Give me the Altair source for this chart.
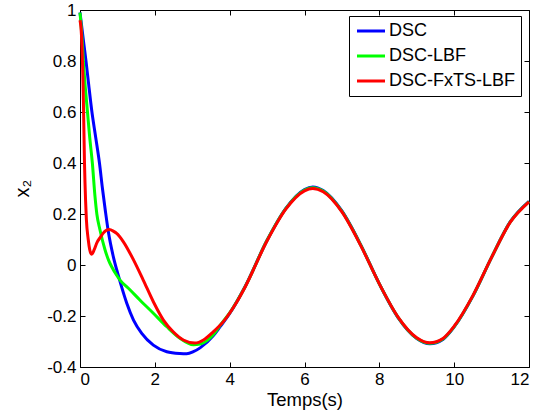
import altair as alt
import pandas as pd

series_names = ["DSC", "DSC-LBF", "DSC-FxTS-LBF"]
series_colors = ["#0000ff", "#00ff00", "#ff0000"]

x_ticks = [0, 2, 4, 6, 8, 10, 12]
y_ticks = [-0.4, -0.2, 0, 0.2, 0.4, 0.6, 0.8, 1]

t_dsc = [0, 0.05, 0.1, 0.16, 0.23, 0.31, 0.42, 0.52, 0.60, 0.68, 0.76, 0.89, 1.02,
         1.11, 1.25, 1.43, 1.65, 1.96, 2.32, 2.67, 2.85, 3.03, 3.21, 3.56, 3.74, 4.0,
         4.41, 5.0, 5.5, 6.0, 6.22, 6.5, 7.0, 7.5, 8.0, 8.5, 9.0, 9.35, 9.7, 10.0,
         10.5, 11.0, 11.5, 12.0]
v_dsc = [0.99, 0.93, 0.87, 0.80, 0.71, 0.61, 0.50, 0.40, 0.30, 0.21, 0.128, 0.033, -0.039,
         -0.085, -0.15, -0.216, -0.268, -0.314, -0.34, -0.347, -0.348, -0.34, -0.325, -0.278, -0.243, -0.19,
         -0.085, 0.097, 0.222, 0.296, 0.306, 0.292, 0.212, 0.08, -0.074, -0.206, -0.288, -0.309, -0.292, -0.243,
         -0.122, 0.03, 0.17, 0.25]

t_lbf = [0, 0.05, 0.09, 0.14, 0.2, 0.26, 0.33, 0.40, 0.45, 0.53, 0.67, 0.76, 0.85,
         0.98, 1.07, 1.34, 1.6, 1.96, 2.32, 2.67, 3.03, 3.21, 3.56, 3.74, 4.0,
         4.41, 5.0, 5.5, 6.0, 6.22, 6.5, 7.0, 7.5, 8.0, 8.5, 9.0, 9.35, 9.7, 10.0,
         10.5, 11.0, 11.5, 12.0]
v_lbf = [0.99, 0.90, 0.80, 0.70, 0.60, 0.50, 0.40, 0.27, 0.20, 0.14, 0.059, 0.02, -0.008,
         -0.04, -0.059, -0.098, -0.137, -0.189, -0.242, -0.287, -0.313, -0.31, -0.274, -0.238, -0.188,
         -0.086, 0.097, 0.221, 0.294, 0.303, 0.29, 0.21, 0.079, -0.074, -0.205, -0.287, -0.307, -0.29, -0.242,
         -0.121, 0.03, 0.169, 0.249]

t_fxts = [0, 0.04, 0.09, 0.12, 0.15, 0.17, 0.22, 0.26, 0.31, 0.38, 0.45, 0.55, 0.62,
          0.78, 0.9, 0.98, 1.16, 1.43, 1.69, 1.96, 2.23, 2.49, 2.76, 3.07, 3.3, 3.56,
          3.83, 4.19, 4.41, 5.0, 5.5, 6.0, 6.22, 6.5, 7.0, 7.5, 8.0, 8.5, 9.0, 9.35,
          9.7, 10.0, 10.5, 11.0, 11.5, 12.0]
v_fxts = [0.96, 0.90, 0.65, 0.40, 0.25, 0.18, 0.10, 0.06, 0.042, 0.06, 0.087, 0.11, 0.125,
          0.139, 0.132, 0.124, 0.091, 0.02, -0.059, -0.144, -0.216, -0.262, -0.294, -0.306, -0.294, -0.262,
          -0.222, -0.145, -0.087, 0.095, 0.219, 0.291, 0.30, 0.287, 0.208, 0.077, -0.074, -0.204, -0.285, -0.305,
          -0.288, -0.24, -0.12, 0.03, 0.168, 0.248]


def frame(name, ts, vs):
    return pd.DataFrame({"t": ts, "v": vs, "series": name})


df_dsc = frame(series_names[0], t_dsc, v_dsc)
df_lbf = frame(series_names[1], t_lbf, v_lbf)
df_fxts = frame(series_names[2], t_fxts, v_fxts)

FONT = "Liberation Sans"
inward = alt.ExprRef(expr="-5")

xscale = alt.Scale(domain=[0, 12], nice=False, zero=False)
yscale = alt.Scale(domain=[-0.4, 1], nice=False, zero=False)

legend = alt.Legend(
    title=None,
    orient="none",
    legendX=269,
    legendY=6,
    symbolType="M-1,0H3",
    symbolSize=196,
    symbolStrokeWidth=3,
    labelOffset=16,
    labelFont=FONT,
    labelFontSize=18,
    labelColor="black",
    rowPadding=7,
    padding=6,
    strokeColor="black",
    fillColor="white",
    cornerRadius=0,
)
color = alt.Color(
    "series:N",
    scale=alt.Scale(domain=series_names, range=series_colors),
    legend=legend,
)

axis_common = dict(
    grid=False,
    domain=False,
    tickColor="black",
    tickWidth=1,
    tickSize=inward,
    labelFont=FONT,
    labelFontSize=17,
    labelColor="black",
    titleFont=FONT,
    titleFontWeight="normal",
    titleColor="black",
)

x_main = alt.Axis(orient="bottom", values=x_ticks, title="Temps(s)", labelPadding=9,
                  titlePadding=3, titleFontSize=18.5, **axis_common)
y_main = alt.Axis(orient="left", values=y_ticks, title="x₂", labelPadding=9,
                  labelExpr="'' + datum.value", titleAngle=-90, titleX=-52, titleY=178,
                  titleAlign="center", titleBaseline="alphabetic", titleFontSize=20,
                  **axis_common)
x_top = alt.Axis(orient="top", values=x_ticks, title=None, labels=False, **axis_common)
y_right = alt.Axis(orient="right", values=y_ticks, title=None, labels=False, **axis_common)

line_kw = dict(strokeWidth=3, interpolate="monotone")

blue = alt.Chart(df_dsc).mark_line(**line_kw).encode(
    x=alt.X("t:Q", scale=xscale, axis=x_main),
    y=alt.Y("v:Q", scale=yscale, axis=y_main),
    color=color,
)
green = alt.Chart(df_lbf).mark_line(**line_kw).encode(
    x=alt.X("t:Q", scale=xscale, axis=None),
    y=alt.Y("v:Q", scale=yscale, axis=None),
    color=color,
)
red = alt.Chart(df_fxts).mark_line(**line_kw).encode(
    x=alt.X("t:Q", scale=xscale, axis=x_top),
    y=alt.Y("v:Q", scale=yscale, axis=y_right),
    color=color,
)

chart = (
    alt.layer(blue, green, red)
    .resolve_axis(x="independent", y="independent")
    .properties(
        width=449,
        height=357,
        autosize=alt.AutoSizeParams(type="none"),
        padding={"left": 80, "top": 10, "right": 21, "bottom": 53},
        background="white",
    )
    .configure_view(stroke="black", strokeWidth=1)
)

chart.save("out.html", embed_options={"renderer": "svg", "actions": False})
